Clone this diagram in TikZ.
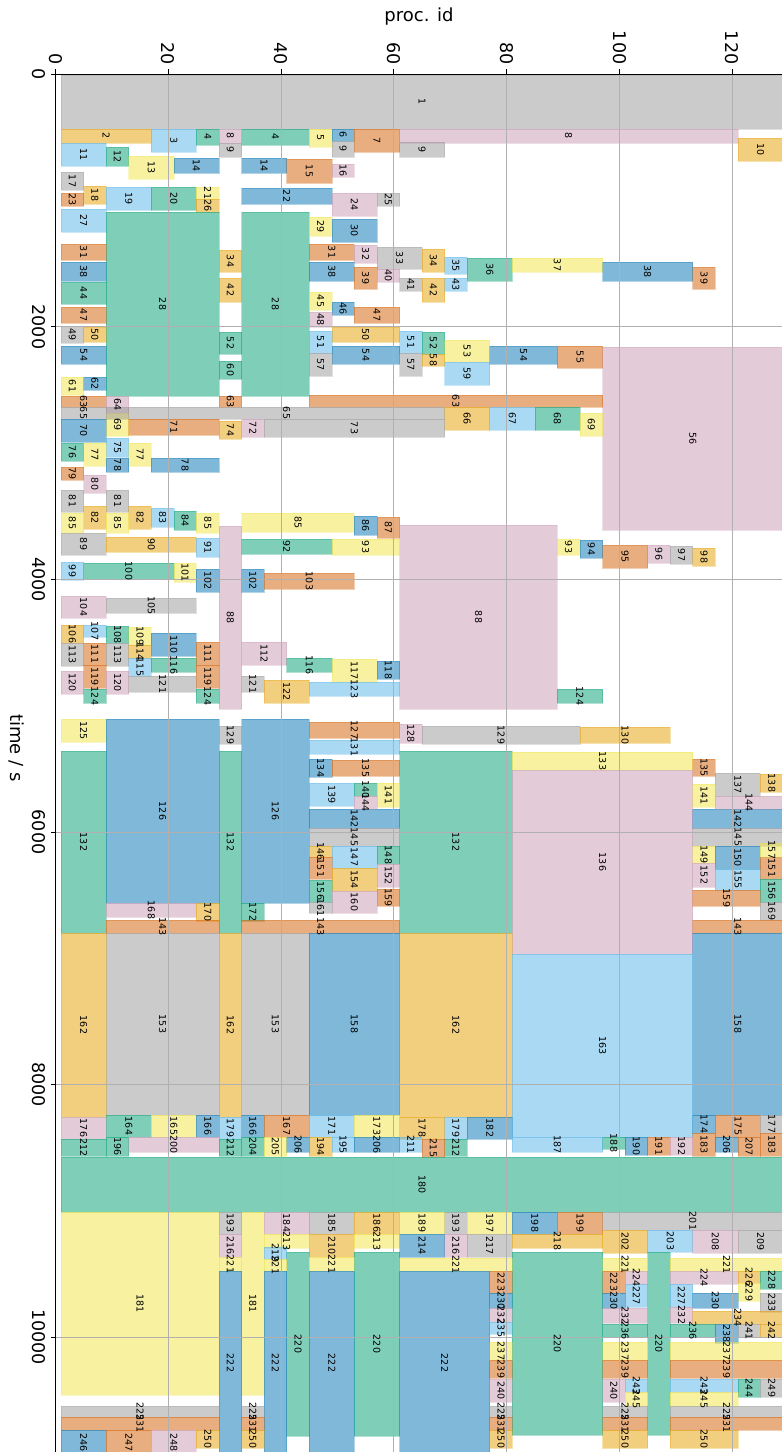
\documentclass[tikz,border=0pt]{standalone}
\usepackage{fontspec}
\setmainfont{DejaVu Sans}

% job colours, one per job id modulo 8
\definecolor{okabe0}{HTML}{999999}
\definecolor{okabe1}{HTML}{E69F00}
\definecolor{okabe2}{HTML}{56B4E9}
\definecolor{okabe3}{HTML}{009E73}
\definecolor{okabe4}{HTML}{F0E442}
\definecolor{okabe5}{HTML}{0072B2}
\definecolor{okabe6}{HTML}{D55E00}
\definecolor{okabe7}{HTML}{C898B2}
\definecolor{gridgray}{HTML}{B0B0B0}

\tikzset{
  jobbox/.style={fill opacity=0.5, draw opacity=0.3, line width=0.6pt},
  joblabel/.style={rotate=-90, inner sep=0pt, font=\fontsize{9.5}{10}\selectfont},
  gridline/.style={gridgray, line width=1.1pt},
  spine/.style={black, line width=1.1pt},
  ticklabel/.style={rotate=-90, inner sep=0pt, font=\fontsize{17.5}{18}\selectfont},
  axislabel/.style={inner sep=0pt, font=\fontsize{18}{19}\selectfont}
}

% a block of 4 procs is one column: column c starts at proc 4c+1
\newcommand{\colx}[1]{(61.1+22.56*(#1))}

% first column / last column / start / end / job id
\newcommand{\jobdata}{%
  % 0 - 2000 s
  0/32/75/129/1, 0/4/129/143/2, 4/6/129/152/3, 6/7/129/145/4, 8/11/129/145/4,
  11/12/129/147/5, 12/13/129/141/6, 13/15/129/152/7, 7/8/129/143/8, 15/30/129/143/8,
  7/8/143/157/9, 12/13/141/157/9, 15/17/142/157/9, 30/32/138/161/10,
  0/2/143/166/11, 2/3/147/166/12, 3/5/156/179/13, 5/7/158/173/14, 8/10/158/173/14,
  10/12/159/183/15, 12/13/164/177/16, 0/1/172/190/17, 1/2/186/204/18,
  2/4/187/210/19, 4/6/187/210/20, 6/7/187/199/21, 8/12/188/204/22, 0/1/193/206/23,
  12/14/193/216/24, 14/15/193/206/25, 6/7/199/212/26, 0/2/209/232/27,
  2/7/212/396/28, 8/11/212/396/28, 11/12/217/236/29, 12/14/219/242/30,
  0/2/244/260/31, 11/13/244/260/31, 13/14/245/263/32, 14/16/247/269/33,
  7/8/250/272/34, 16/17/249/272/34, 17/18/257/274/35, 18/20/258/281/36,
  20/24/258/272/37, 0/2/262/281/38, 11/13/262/281/38, 24/28/262/281/38,
  13/14/267/289/39, 28/29/267/289/39, 14/15/269/282/40, 15/16/278/291/41,
  7/8/278/302/42, 16/17/278/302/42, 17/18/278/291/43, 0/2/282/304/44,
  11/12/292/310/45, 12/13/302/315/46, 0/2/307/323/47, 13/15/307/323/47,
  11/12/312/327/48, 0/1/326/343/49, 1/2/327/342/50, 12/15/327/342/50,
  11/12/331/353/51, 15/16/331/353/51, 7/8/332/354/52, 16/17/332/354/52,
  17/19/340/362/53, 0/2/346/364/54, 12/15/346/364/54, 19/22/346/364/54,
  22/24/346/368/55, 24/32/347/530/56, 11/12/353/376/57, 15/16/353/376/57,
  16/17/354/366/58, 17/19/362/385/59, 7/8/361/379/60, 0/1/377/395/61, 1/2/377/390/62,
  0/2/396/407/63, 7/8/396/407/63, 11/24/395/407/63, 2/3/396/413/64,
  0/2/407/419/65, 3/17/407/419/65, 17/19/407/430/66, 19/21/407/430/67,
  21/23/407/430/68, 2/3/413/436/69, 23/24/413/436/69, 0/2/419/442/70,
  3/7/419/435/71, 8/9/419/437/72, 9/17/419/437/73, 7/8/421/439/74,
  2/3/438/457/75, 0/1/443/461/76, 1/2/443/466/77, 3/4/443/466/77,
  2/3/458/472/78, 4/7/458/472/78, 0/1/467/480/79, 1/2/475/493/80,
  0/1/490/512/81, 2/3/490/512/81, 1/2/506/529/82, 3/4/506/529/82,
  4/5/508/527/83, 5/6/511/530/84, 0/1/513/533/85, 2/3/513/533/85,
  6/7/513/533/85, 8/13/513/532/85, 13/14/516/535/86, 14/15/517/538/87,
  % 2000 - 6000 s
  7/8/526/709/88, 15/22/525/709/88, 0/2/533/555/89, 2/6/537/552/90,
  6/7/538/557/91, 8/12/539/554/92, 12/15/539/555/93, 22/23/539/555/93,
  23/24/540/558/94, 24/26/545/568/95, 26/27/545/563/96, 27/28/546/564/97,
  28/29/548/566/98, 0/1/562/580/99, 1/5/563/579/100, 5/6/563/582/101,
  6/7/569/592/102, 8/9/569/592/102, 9/13/573/589/103, 0/2/596/618/104,
  2/6/598/613/105, 0/1/625/643/106, 1/2/625/637/107, 2/3/626/643/108,
  3/4/627/645/109, 4/6/633/656/110, 1/2/643/665/111, 6/7/642/665/111,
  8/10/642/665/112, 0/1/643/666/113, 2/3/643/666/113, 3/4/645/658/114,
  3/4/658/676/115, 4/6/658/672/116, 10/12/658/672/116, 12/14/659/682/117,
  14/15/661/679/118, 1/2/665/688/119, 6/7/665/688/119, 0/1/671/694/120,
  2/3/671/694/120, 3/6/676/692/121, 8/9/676/692/121, 9/11/680/703/122,
  11/15/682/696/123, 1/2/689/703/124, 6/7/689/703/124, 22/24/689/703/124,
  0/2/719/742/125, 2/7/719/903/126, 8/11/719/903/126, 11/15/722/738/127,
  15/16/724/743/128, 7/8/726/744/129, 16/23/726/744/129, 23/27/727/743/130,
  11/15/740/754/131, 0/2/751/933/132, 7/8/751/933/132, 15/20/751/933/132,
  20/28/752/770/133, 11/12/759/777/134, 12/15/760/776/135, 28/29/759/776/135,
  20/28/770/954/136, 29/31/773/796/137, 31/32/774/792/138, 11/13/783/806/139,
  13/14/783/796/140, 14/15/783/807/141, 28/29/784/807/141,
  11/15/809/828/142, 28/32/809/828/142, 13/14/796/809/144, 29/32/796/809/144,
  11/15/828/846/145, 28/32/828/846/145, 11/12/846/857/146, 12/14/846/868/147,
  14/15/846/864/148, 28/29/846/863/149, 29/31/846/869/150,
  11/12/857/879/151, 31/32/857/879/151, 14/15/864/887/152, 28/29/863/887/152,
  12/14/868/891/154, 29/31/869/890/155, 11/12/880/902/156, 31/32/879/902/156,
  31/32/843/857/157, 14/15/889/906/159, 28/31/890/906/159, 12/14/891/913/160,
  11/12/902/913/161, 2/6/903/917/168, 31/32/902/920/169, 6/7/903/921/170,
  8/9/903/921/172, 2/7/920/933/143, 8/15/920/933/143, 28/32/920/933/143,
  % 6000 - 9000 s
  2/7/933/1115/153, 8/11/933/1115/153, 11/15/933/1115/158, 28/32/933/1115/158,
  0/2/933/1117/162, 7/8/933/1117/162, 15/20/933/1117/162, 20/28/954/1137/163,
  2/4/1115/1137/164, 4/6/1115/1137/165, 6/7/1115/1137/166, 8/9/1115/1137/166,
  9/11/1115/1137/167, 11/13/1115/1137/171, 13/15/1115/1137/173,
  28/29/1115/1133/174, 29/31/1115/1137/175, 0/2/1117/1139/176, 31/32/1115/1133/177,
  15/17/1117/1139/178, 7/8/1117/1139/179, 17/18/1117/1139/179, 18/20/1117/1139/182,
  28/29/1133/1156/183, 31/32/1133/1156/183, 20/24/1137/1152/187, 24/25/1137/1149/188,
  25/26/1137/1155/190, 26/27/1137/1155/191, 27/28/1137/1155/192,
  11/12/1137/1156/194, 12/13/1137/1152/195, 2/3/1137/1156/196, 3/7/1137/1152/200,
  8/9/1137/1156/204, 9/10/1137/1156/205, 10/11/1137/1152/206, 13/15/1137/1152/206,
  29/30/1137/1152/206, 30/31/1137/1156/207, 15/16/1137/1152/211,
  0/2/1139/1156/212, 7/8/1139/1156/212, 17/18/1139/1156/212, 16/17/1139/1157/215,
  0/32/1157/1212/180,
  % 9000 s onwards
  0/7/1212/1395/181, 8/9/1212/1395/181, 9/11/1212/1234/184, 11/13/1212/1234/185,
  13/15/1212/1234/186, 15/17/1212/1234/189, 7/8/1212/1234/193, 17/18/1212/1234/193,
  18/20/1212/1234/197, 20/22/1212/1234/198, 22/24/1212/1234/199, 24/32/1212/1230/201,
  24/26/1230/1253/202, 26/28/1230/1252/203, 28/30/1230/1253/208, 30/32/1230/1253/209,
  11/13/1234/1257/210, 9/11/1234/1248/213, 13/15/1234/1248/213, 15/17/1234/1257/214,
  7/8/1234/1257/216, 17/18/1234/1257/216, 18/20/1234/1257/217, 20/24/1234/1248/218,
  9/10/1247/1259/219, 10/11/1252/1436/220, 13/15/1252/1436/220, 20/24/1252/1435/220,
  26/27/1252/1435/220, 7/8/1257/1271/221, 9/10/1259/1271/221, 11/13/1257/1271/221,
  15/20/1258/1271/221, 24/26/1258/1271/221, 27/32/1258/1271/221,
  7/8/1271/1455/222, 9/10/1271/1455/222, 11/13/1271/1455/222, 15/19/1271/1455/222,
  19/20/1271/1293/223, 24/25/1271/1293/223, 25/26/1271/1284/224, 27/30/1271/1284/224,
  30/31/1271/1283/226, 25/26/1284/1307/227, 27/28/1284/1307/227, 31/32/1271/1289/228,
  30/31/1283/1301/229, 19/20/1293/1308/230, 24/25/1293/1308/230, 28/30/1293/1308/230,
  19/20/1308/1322/232, 24/26/1308/1323/232, 27/28/1307/1323/232, 31/32/1293/1312/233,
  28/32/1311/1324/234, 19/20/1322/1334/235, 24/26/1324/1337/236, 27/29/1324/1337/236,
  29/30/1324/1343/238, 30/31/1324/1337/241, 31/32/1324/1337/242,
  19/20/1342/1360/237, 24/26/1342/1360/237, 27/32/1342/1360/237,
  19/20/1360/1378/239, 24/26/1360/1378/239, 27/32/1360/1378/239,
  19/20/1379/1402/240, 24/25/1379/1402/240, 25/26/1379/1392/243, 27/30/1379/1392/243,
  30/31/1379/1397/244, 25/26/1392/1406/245, 27/30/1392/1406/245, 31/32/1379/1397/249,
  0/7/1406/1417/225, 8/9/1406/1417/225, 19/20/1406/1417/225, 24/26/1406/1417/225,
  27/32/1406/1417/225, 0/7/1417/1430/231, 8/9/1417/1430/231, 19/20/1417/1430/231,
  24/26/1417/1430/231, 27/32/1417/1430/231, 0/2/1430/1455/246, 2/4/1430/1455/247,
  4/6/1430/1455/248, 6/7/1430/1448/250, 8/9/1430/1448/250, 19/20/1430/1448/250,
  24/26/1430/1448/250, 27/30/1430/1448/250%
}

\begin{document}
\begin{tikzpicture}[x=1pt, y=-1pt]
  \useasboundingbox (0,0) rectangle (782,1452);
  \fill[white] (0,0) rectangle (782,1452);

  % job blocks
  \foreach \a/\b/\s/\e/\n in \jobdata {
    \pgfmathtruncatemacro{\jobc}{mod(\n-1,8)}
    \filldraw[jobbox, fill=okabe\jobc, draw=okabe\jobc]
      ({\colx{\a}},\s) rectangle ({\colx{\b}},\e);
  }
  % piece of job 65 under job 64, no label of its own
  \filldraw[jobbox, fill=okabe0, draw=okabe0] ({\colx{2}},407) rectangle ({\colx{3}},419);

  % grid, spines, ticks
  \foreach \p in {20,40,...,120}
    \draw[gridline] ({55.5+5.64*\p},74.3) -- ({55.5+5.64*\p},1452);
  \foreach \t in {2000,4000,...,10000}
    \draw[gridline] (55.5,{74.3+0.1263*\t}) -- (783,{74.3+0.1263*\t});
  \draw[spine] (55.5,1452) -- (55.5,74.3) -- (783,74.3);
  \foreach \p in {0,20,...,120} {
    \draw[spine] ({55.5+5.64*\p},74.3) -- ++(0,-4.9);
    \node[ticklabel, anchor=east] (xt\p) at ({55.5+5.64*\p},64.5) {\p};
  }
  \foreach \t in {0,2000,...,10000} {
    \draw[spine] (55.5,{74.3+0.1263*\t}) -- ++(-4.9,0);
    \node[ticklabel, anchor=north] (yt\t) at (45.8,{74.3+0.1263*\t}) {\t};
  }

  % job ids
  \foreach \a/\b/\s/\e/\n in \jobdata
    \node[joblabel] (job-\n-\a) at ({(\colx{\a}+\colx{\b})/2},{(\s+\e)/2}) {\n};

  \node[axislabel] (xlabel) at (419,17) {proc. id};
  \node[axislabel, rotate=-90] (ylabel) at (17,748) {time / s};
\end{tikzpicture}
\end{document}
